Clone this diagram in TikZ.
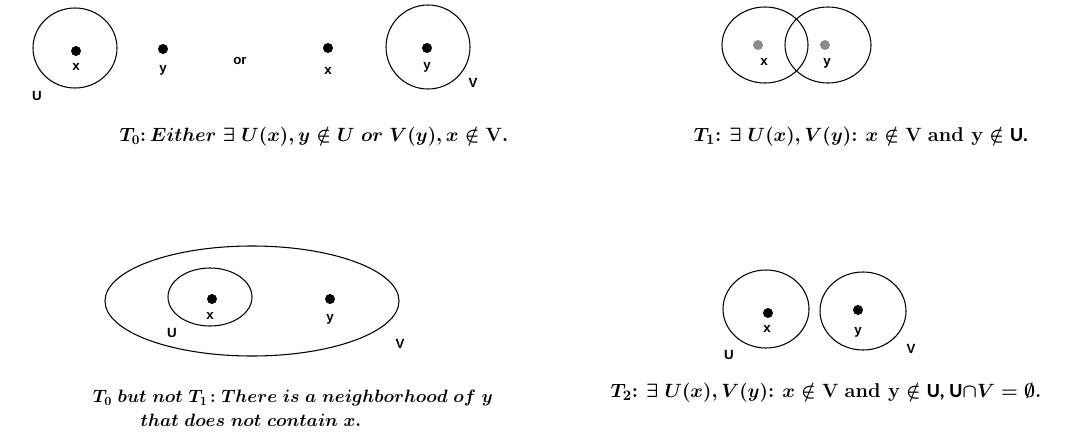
\documentclass[tikz,border=0pt]{standalone}
\usepackage{amsmath,amssymb}
\usepackage{bm}
\usepackage{fontspec}
\setsansfont{Liberation Sans}
\newfontfamily\calib{Carlito}
\usepackage{tikz}
\usetikzlibrary{shapes.geometric}

\begin{document}
\begin{tikzpicture}[
  x=0.75pt, y=-0.75pt,
  setshape/.style 2 args={ellipse, draw, line width=0.8pt, inner sep=0pt, minimum width=#1*1.5pt, minimum height=#2*1.5pt},
  pt/.style={circle, fill=black, inner sep=0pt, minimum size=7.5pt},
  greypt/.style={pt, fill=black!45},
  lbl/.style={font=\fontsize{10}{12}\sffamily\bfseries, inner sep=0pt},
  captext/.style={font=\fontsize{#1}{17}\selectfont\boldmath, inner sep=0pt},
  captext/.default=15
]
\useasboundingbox (0,0) rectangle (1074,439);

% T0
\node[setshape={42}{40}] (U0) at (75,48) {};
\node[setshape={42}{42}] (V0) at (428,47) {};
\node[pt] (x0a) at (76,51) {};
\node[lbl] (x0alab) at (76,67) {x};
\node[pt] (y0a) at (163,49) {};
\node[lbl] (y0alab) at (163,70) {y};
\node[lbl] (U0lab) at (37,96) {U};
\node[lbl] (or) at (240,61) {or};
\node[pt] (x0b) at (328,48) {};
\node[lbl] (x0blab) at (328,71) {x};
\node[pt] (y0b) at (427,48) {};
\node[lbl] (y0blab) at (427,67) {y};
\node[lbl] (V0lab) at (473,83) {V};
\node[captext=14.5] (cap0) at (314,137)
  {$T_0$\textbf{:}$\,Either\ \exists\ U(x), y \notin U\ or\ V(y), x \notin \mathbf{V}.$};

% T1
\node[setshape={43}{38}] (U1) at (765,45) {};
\node[setshape={43}{38}] (V1) at (828,45) {};
\node[greypt] (x1) at (758,45) {};
\node[lbl] (x1lab) at (764,62) {x};
\node[greypt] (y1) at (825,45) {};
\node[lbl] (y1lab) at (827,63) {y};
\node[captext] (cap1) at (861,137)
  {$T_1$\textbf{:} $\exists\ U(x), V(y)$\textbf{:} $x \notin \mathbf{V}$ \textbf{and y} $\notin$ {\calib\bfseries U.}};

% T0 but not T1
\node[setshape={147}{55}] (V2) at (252,301) {};
\node[setshape={42}{29}] (U2) at (210,297) {};
\node[pt] (x2) at (212,299) {};
\node[lbl] (x2lab) at (210,316) {x};
\node[pt] (y2) at (330,299) {};
\node[lbl] (y2lab) at (330,319) {y};
\node[lbl] (U2lab) at (172,333) {U};
\node[lbl] (V2lab) at (400,344) {V};
\node[captext=14] (cap2a) at (293,398)
  {\scalebox{0.93}{$T_0\;but\;not\;T_1\!: There\;is\;a\;neighborhood\;of\;y$}};
\node[captext=14] (cap2b) at (251,420)
  {\scalebox{0.93}{$that\;does\;not\;contain\;x.$}};

% T2
\node[setshape={43}{39}] (U3) at (766,309) {};
\node[setshape={43}{39}] (V3) at (863,311) {};
\node[pt] (x3) at (768,313) {};
\node[lbl] (x3lab) at (767,329) {x};
\node[pt] (y3) at (858,310) {};
\node[lbl] (y3lab) at (858,332) {y};
\node[lbl] (U3lab) at (729,355) {U};
\node[lbl] (V3lab) at (911,349) {V};
\node[captext] (cap3) at (826,393)
  {$T_2$\textbf{:} $\exists\ U(x), V(y)$\textbf{:} $x \notin \mathbf{V}$ \textbf{and y} $\notin$ {\calib\bfseries U, U}$\cap V = \unboldmath\emptyset$\textbf{.}};

\end{tikzpicture}
\end{document}
